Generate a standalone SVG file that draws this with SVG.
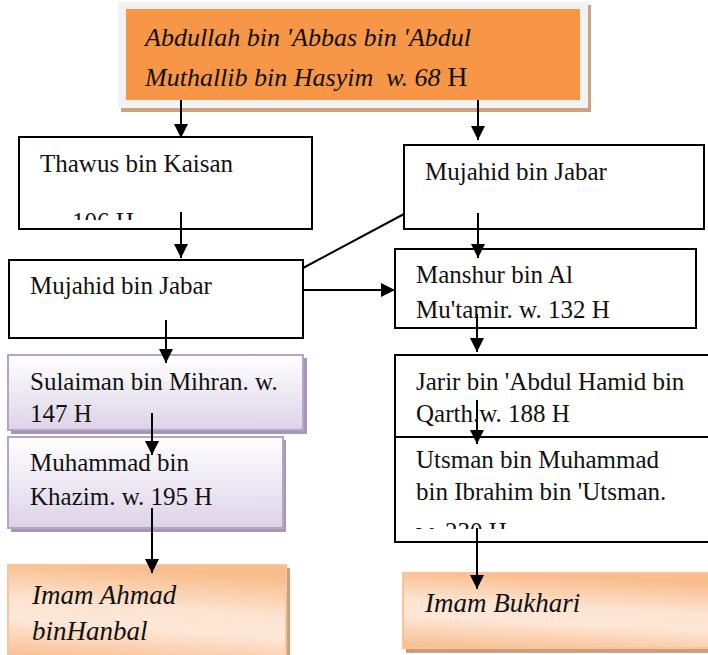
<svg xmlns="http://www.w3.org/2000/svg" width="708" height="655" viewBox="0 0 708 655">
<style>
.t{font-family:"Liberation Serif","DejaVu Serif","Times New Roman",serif;font-size:25px;fill:#111}
.ti{font-family:"Liberation Serif","DejaVu Serif","Times New Roman",serif;font-style:italic;fill:#111;white-space:pre}
.box{fill:#fff;stroke:#000;stroke-width:2}
.lav{fill:url(#gLav);stroke:#B5A4CA;stroke-width:2}
.lavsh{fill:#A597B6}
.pch{fill:url(#gPeach);stroke:#FAC39A;stroke-width:2}
.pchsh{fill:#C9A07E}
.ln{stroke:#000;stroke-width:2;fill:none}
.ar{marker-end:url(#ah)}
</style>
<defs>
<marker id="ah" viewBox="0 0 10 10" refX="10" refY="5" markerUnits="userSpaceOnUse" markerWidth="14" markerHeight="14" orient="auto">
<path d="M0,0 L10,5 L0,10 z" fill="#000"/>
</marker>
<linearGradient id="gLav" x1="0" y1="0" x2="0" y2="1">
<stop offset="0" stop-color="#FFFFFF"/>
<stop offset="1" stop-color="#DDD3E8"/>
</linearGradient>
<linearGradient id="gPeach" x1="0.1" y1="1" x2="0.3" y2="0">
<stop offset="0" stop-color="#F9BE90"/>
<stop offset="0.4" stop-color="#FDE7D6"/>
<stop offset="0.6" stop-color="#FCE4D2"/>
<stop offset="1" stop-color="#F9BD8B"/>
</linearGradient>
<clipPath id="cThawus"><rect x="19" y="137" width="293" height="83"/></clipPath>
<clipPath id="cUtsman"><rect x="395" y="437" width="313" height="92"/></clipPath>
</defs>

<g id="node-abdullah">
<rect x="121" y="5" width="470" height="107" fill="#CDA283"/>
<rect x="118" y="2" width="470" height="106" fill="#F2F2F2"/>
<rect x="126" y="9" width="454" height="91" fill="#F79646"/>
<text class="ti" x="145" y="46" font-size="26">Abdullah bin 'Abbas bin 'Abdul</text>
<text class="ti" x="145" y="86" font-size="26" xml:space="preserve">Muthallib bin Hasyim  w. 68 <tspan font-style="normal" font-size="28">H</tspan></text>
</g>

<g id="node-thawus">
<rect class="box" x="19" y="137" width="293" height="92"/>
<g clip-path="url(#cThawus)">
<text class="t" x="40" y="172">Thawus bin Kaisan</text>
<text class="t" x="72" y="230">106 H</text>
</g>
</g>

<g id="node-mujahid-right">
<rect class="box" x="404" y="145" width="300" height="84"/>
<text class="t" x="425" y="180">Mujahid bin Jabar</text>
</g>

<g id="node-mujahid-left">
<rect class="box" x="9" y="260" width="294" height="78"/>
<text class="t" x="30" y="294">Mujahid bin Jabar</text>
</g>

<g id="node-manshur">
<rect class="box" x="395" y="249" width="301" height="79"/>
<text class="t" x="416" y="283">Manshur bin Al</text>
<text class="t" x="416" y="318">Mu'tamir. w. 132 H</text>
</g>

<g id="node-sulaiman">
<rect class="lavsh" x="11" y="358" width="296" height="76"/>
<rect class="lav" x="8" y="355" width="295" height="75"/>
<text class="t" x="30" y="390">Sulaiman bin Mihran. w.</text>
<text class="t" x="30" y="422">147 H</text>
</g>

<g id="node-muhammad">
<rect class="lavsh" x="11" y="440" width="275" height="92"/>
<rect class="lav" x="8" y="437" width="275" height="91"/>
<text class="t" x="30" y="471">Muhammad bin</text>
<text class="t" x="30" y="505">Khazim. w. 195 H</text>
</g>

<g id="node-jarir">
<rect class="box" x="395" y="355" width="320" height="82"/>
<text class="t" x="416" y="390">Jarir bin 'Abdul Hamid bin</text>
<text class="t" x="416" y="422">Qarth.w. 188 H</text>
</g>

<g id="node-utsman">
<rect class="box" x="395" y="437" width="320" height="105"/>
<g clip-path="url(#cUtsman)">
<text class="t" x="416" y="468">Utsman bin Muhammad</text>
<text class="t" x="416" y="500">bin Ibrahim bin 'Utsman.</text>
<text class="t" x="416" y="540">w. 230 H</text>
</g>
</g>

<g id="node-ahmad">
<rect class="pchsh" x="11" y="568" width="279" height="92"/>
<rect class="pch" x="8" y="565" width="278" height="95"/>
<text class="ti" x="32" y="604" font-size="27">Imam Ahmad</text>
<text class="ti" x="32" y="640" font-size="27">binHanbal</text>
</g>

<g id="node-bukhari">
<rect class="pchsh" x="406" y="577" width="310" height="76"/>
<rect class="pch" x="403" y="573" width="310" height="75"/>
<text class="ti" x="425" y="612" font-size="27">Imam Bukhari</text>
</g>

<g id="connectors">
<line class="ln ar" x1="181" y1="100" x2="181" y2="138"/>
<line class="ln ar" x1="478" y1="100" x2="478" y2="140"/>
<line class="ln ar" x1="181" y1="212" x2="181" y2="258"/>
<line class="ln" x1="303" y1="268" x2="404" y2="214"/>
<line class="ln ar" x1="303" y1="290" x2="395" y2="290"/>
<line class="ln ar" x1="478" y1="213" x2="478" y2="258"/>
<line class="ln ar" x1="166" y1="320" x2="166" y2="363"/>
<line class="ln ar" x1="477" y1="314" x2="477" y2="352"/>
<line class="ln ar" x1="152" y1="413" x2="152" y2="455"/>
<line class="ln ar" x1="477" y1="400" x2="477" y2="444"/>
<line class="ln ar" x1="152" y1="508" x2="152" y2="573"/>
<line class="ln ar" x1="477" y1="528" x2="477" y2="589"/>
</g>
</svg>
